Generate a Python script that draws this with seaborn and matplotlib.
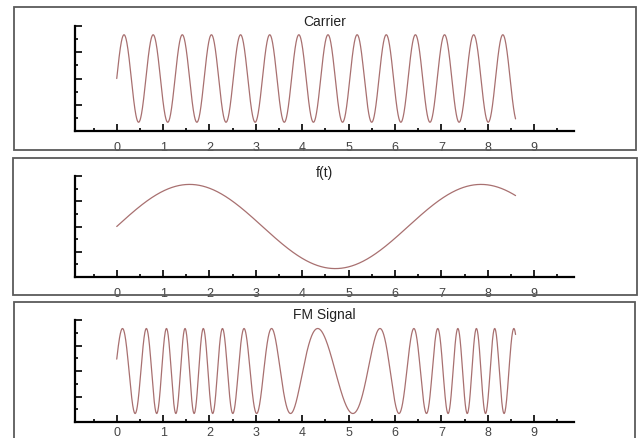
import numpy as np
import pandas as pd
import seaborn as sns
import matplotlib.pyplot as plt
from matplotlib.patches import Rectangle
from matplotlib.ticker import MultipleLocator

# signal parameters
t_end = 8.6          # all three traces stop near t = 8.6
carrier_freq = 10.0  # rad/s, ~14 carrier peaks over the run
mod_freq = 1.0       # f(t) = sin(t): peaks at ~1.57 and ~7.85
mod_index = 6.0      # FM peak spacing ~0.41 fast, ~1.37 slow
n_samples = 2000

titles = ["Carrier", "f(t)", "FM Signal"]
x_ticks = [0, 1, 2, 3, 4, 5, 6, 7, 8, 9]

t = np.linspace(0, t_end, n_samples)
signals = pd.DataFrame({
    "t": t,
    "Carrier": np.sin(carrier_freq * t),
    "f(t)": np.sin(mod_freq * t),
    "FM Signal": np.sin(carrier_freq * t - mod_index * np.cos(mod_freq * t)),
})

sns.set_style("ticks")
plt.rcParams["font.family"] = ["Liberation Sans", "DejaVu Sans"]

W, H = 641, 439
fig = plt.figure(figsize=(W / 100, H / 100), dpi=100)

# pixel layout: box left, top, right, bottom, axes top, axes bottom, title centre, label pad
panels = [
    (14, 8, 636, 151, 27, 132, 22, 7),
    (13, 159, 637, 296, 177, 278, 173, 7),
    (14, 303, 635, 450, 321, 423, 315, 3),
]
ax_left, ax_right = 75, 574

for name, (bx0, by0, bx1, by1, atop, abot, ty, pad) in zip(titles, panels):
    fig.patches.append(Rectangle((bx0 / W, 1 - by1 / H), (bx1 - bx0) / W, (by1 - by0) / H,
                                 transform=fig.transFigure, fill=False,
                                 edgecolor="#5a5a5a", linewidth=1.3))
    ax = fig.add_axes([ax_left / W, 1 - abot / H, (ax_right - ax_left) / W, (abot - atop) / H])
    ax.patch.set_alpha(0)
    sns.lineplot(data=signals, x="t", y=name, ax=ax, color="#a87070", linewidth=0.9)
    ax.set_xlim(-0.9, 9.86)
    ax.set_ylim(-1.2, 1.2)
    ax.set_xticks(x_ticks)
    ax.xaxis.set_minor_locator(MultipleLocator(0.5))
    ax.yaxis.set_major_locator(MultipleLocator(0.6))
    ax.yaxis.set_minor_locator(MultipleLocator(0.3))
    ax.set_yticklabels([])
    ax.set_xlabel("")
    ax.set_ylabel("")
    ax.tick_params(which="both", direction="in", color="black", width=1.2)
    ax.tick_params(which="major", length=5)
    ax.tick_params(which="minor", length=2.5)
    ax.tick_params(axis="x", labelsize=9, labelcolor="#444444", pad=pad)
    for side in ["top", "right"]:
        ax.spines[side].set_visible(False)
    for side in ["left", "bottom"]:
        ax.spines[side].set_linewidth(1.6)
        ax.spines[side].set_color("black")
    fig.text(0.5 * (ax_left + ax_right) / W, 1 - ty / H, name, ha="center", va="center",
             fontsize=10, color="#222222")

fig.savefig("out.png", dpi=100)
